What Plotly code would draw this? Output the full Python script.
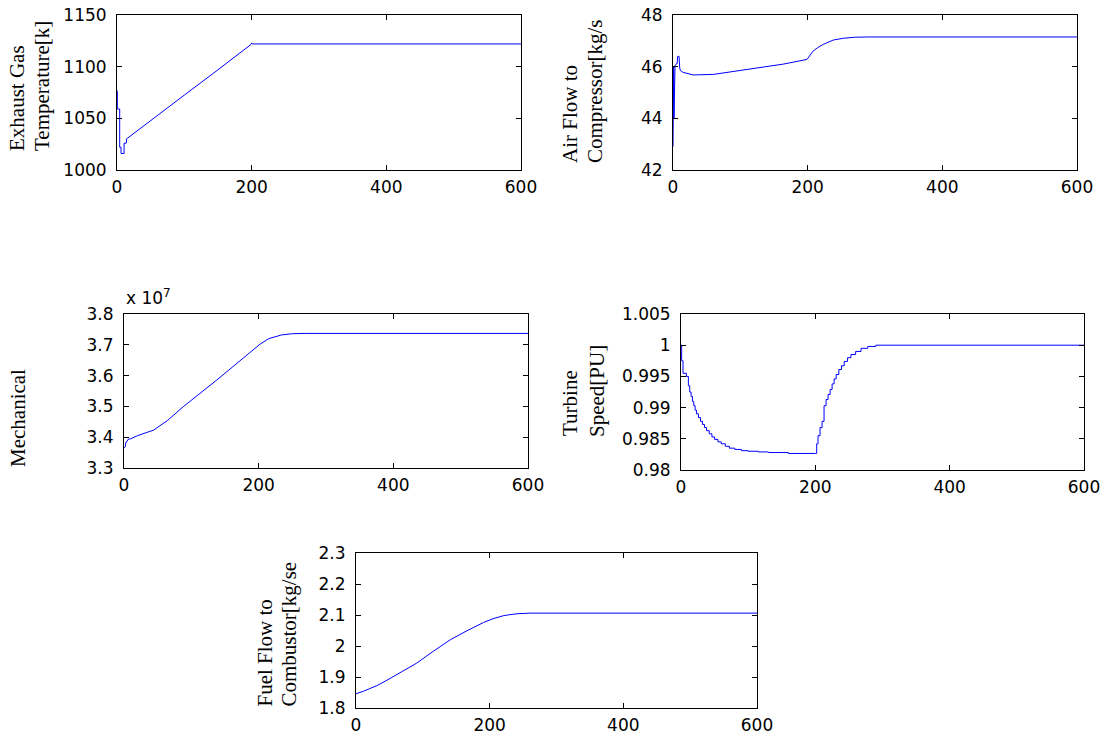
import plotly.graph_objects as go

W, H = 1112, 732
OFF = 8  # page body margin of the browser

# ---------------- data ----------------
# Exhaust gas temperature [K]
t_exh = [0, 0.5, 0.5, 4, 4, 6, 6, 10.5, 10.5, 14, 14, 50, 100, 150, 199, 200, 201, 600]
exh_temp = [1077, 1076, 1059, 1059, 1022, 1022, 1016, 1016, 1026, 1026, 1030, 1048, 1072.5, 1097, 1121.5, 1123, 1122, 1122]

# Air flow to compressor [kg/s]
t_air = [0, 0.5, 1, 1.5, 2, 2.5, 3, 5, 6, 7, 9, 10, 11, 15, 30, 60, 114, 164, 199, 203, 208, 215, 223, 238, 253, 270, 290, 600]
air_flow = [42.9, 43.9, 46.0, 44.0, 46.05, 44.1, 46.05, 46.1, 46.1, 46.4, 46.4, 45.95, 45.85, 45.78, 45.68, 45.7, 45.91, 46.1, 46.28, 46.42, 46.6, 46.74, 46.86, 47.03, 47.1, 47.14, 47.15, 47.15]

# Mechanical power (x 10^7)
t_mech = [0, 2, 3, 4, 6, 10, 20, 44, 65, 88, 138, 202, 215, 234, 250, 270, 600]
mech = [3.365, 3.37, 3.385, 3.385, 3.393, 3.395, 3.405, 3.423, 3.455, 3.499, 3.586, 3.702, 3.72, 3.732, 3.736, 3.737, 3.737]

# Turbine speed [PU]
t_spd = [0, 1, 3, 8, 11, 13, 15, 17, 19, 21, 23, 26, 29, 32, 35, 38, 42, 46, 50, 55, 60, 66, 72, 80, 90,
         100, 115, 130, 160, 200, 202, 204, 207, 210, 213, 216, 219, 222, 225, 228, 231, 235, 239, 243,
         248, 253, 260, 268, 278, 290, 600]
speed = [1.0, 0.9975, 0.9955, 0.995, 0.9935, 0.9925, 0.9918, 0.991, 0.9903, 0.9896, 0.989, 0.9884, 0.9878,
         0.9873, 0.9868, 0.9863, 0.9858, 0.9853, 0.9849, 0.9845, 0.9842, 0.9838, 0.9835, 0.9833, 0.9831,
         0.983, 0.9829, 0.9828, 0.98265, 0.98265, 0.9842, 0.9855, 0.9868, 0.9878, 0.9903, 0.9913, 0.9921,
         0.9929, 0.9938, 0.9946, 0.9953, 0.9961, 0.9967, 0.9974, 0.998, 0.9985, 0.999, 0.9995, 0.9998, 1.0, 1.0]

# Fuel flow to combustor [kg/s]
t_fuel = [0, 5, 11, 20, 31, 45, 66, 91, 115, 141, 165, 191, 205, 213, 221, 230, 241, 260, 600]
fuel = [1.846, 1.849, 1.854, 1.862, 1.872, 1.888, 1.913, 1.945, 1.982, 2.02, 2.048, 2.076, 2.088, 2.094,
        2.098, 2.101, 2.104, 2.106, 2.106]

x_ticks = [0, 200, 400, 600]
y_ticks_exh = [1000, 1050, 1100, 1150]
y_ticks_air = [42, 44, 46, 48]
y_ticks_mech = [3.3, 3.4, 3.5, 3.6, 3.7, 3.8]
y_ticks_spd = [0.98, 0.985, 0.99, 0.995, 1.0, 1.005]
y_tick_text_spd = ["0.98", "0.985", "0.99", "0.995", "1", "1.005"]
y_ticks_fuel = [1.8, 1.9, 2.0, 2.1, 2.2, 2.3]
y_tick_text_fuel = ["1.8", "1.9", "2", "2.1", "2.2", "2.3"]

# ---------------- layout helpers ----------------
def px_x(p):
    return (p - OFF) / W

def px_y(p):
    return 1 - (p - OFF) / H

boxes = {  # left, right, top, bottom in screen pixels
    1: (117, 521, 15, 170),
    2: (673, 1077, 15, 170),
    3: (124, 528, 314, 468),
    4: (681, 1084, 314, 470),
    5: (356, 757, 553, 708),
}

TICKFONT = dict(family="DejaVu Sans", size=17, color="black")
LABELFONT = dict(family="Liberation Serif", size=21, color="black")
LINE = dict(color="#0000ff", width=1)

fig = go.Figure()
series = [
    (t_exh, exh_temp, "linear"),
    (t_air, air_flow, "linear"),
    (t_mech, mech, "linear"),
    (t_spd, speed, "hv"),
    (t_fuel, fuel, "linear"),
]
for i, (tx, vy, shape) in enumerate(series, start=1):
    fig.add_trace(go.Scatter(x=tx, y=vy, mode="lines", line=dict(shape=shape, **LINE),
                             xaxis=f"x{i}", yaxis=f"y{i}", showlegend=False, hoverinfo="skip"))

yconf = {
    1: dict(range=[1000, 1150], tickvals=y_ticks_exh),
    2: dict(range=[42, 48], tickvals=y_ticks_air),
    3: dict(range=[3.3, 3.8], tickvals=y_ticks_mech),
    4: dict(range=[0.98, 1.005], tickvals=y_ticks_spd, ticktext=y_tick_text_spd),
    5: dict(range=[1.8, 2.3], tickvals=y_ticks_fuel, ticktext=y_tick_text_fuel),
}

layout = dict(width=W, height=H, autosize=False, margin=dict(l=0, r=0, t=0, b=0, pad=0),
              paper_bgcolor="white", plot_bgcolor="white", showlegend=False, template="none")
common = dict(showline=True, linecolor="black", linewidth=1, mirror="ticks", ticks="inside",
              ticklen=5, tickcolor="black", tickwidth=1, showgrid=False, zeroline=False,
              tickfont=TICKFONT, automargin=False, ticklabeloverflow="allow")
for i, (l, r, t, b) in boxes.items():
    layout[f"xaxis{i}"] = dict(domain=[px_x(l), px_x(r)], anchor=f"y{i}", range=[0, 600],
                               tickvals=x_ticks, ticklabelstandoff=2, **common)
    layout[f"yaxis{i}"] = dict(domain=[px_y(b), px_y(t)], anchor=f"x{i}",
                               ticklabelstandoff=6, **common, **yconf[i])
fig.update_layout(**layout)

# y-axis labels (two-line labels bottom aligned)
labels = [
    ("Exhaust Gas", 17, 153),
    ("Temperature[k]", 42, 153),
    ("Air Flow to", 570, 165),
    ("Compressor[kg/s", 595, 165),
    ("Mechanical", 18, 469),
    ("Turbine", 570, 438),
    ("Speed[PU]", 597, 439),
    ("Fuel Flow to", 264, 709),
    ("Combustor[kg/se", 288, 709),
]
for txt, cx, by in labels:
    fig.add_annotation(text=txt, x=px_x(cx), y=px_y(by), xref="paper", yref="paper",
                       xanchor="center", yanchor="bottom", textangle=-90, showarrow=False,
                       font=LABELFONT)

fig.add_annotation(text="x 10<sup>7</sup>", x=px_x(124), y=px_y(310), xref="paper", yref="paper",
                   xanchor="left", yanchor="bottom", showarrow=False,
                   font=dict(family="DejaVu Sans", size=17, color="black"))

fig.write_html("out.html")
